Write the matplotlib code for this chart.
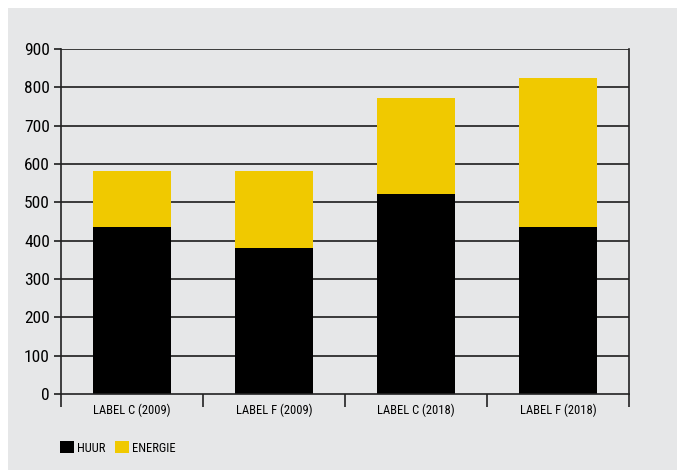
import matplotlib
matplotlib.use("Agg")
import matplotlib.pyplot as plt
from matplotlib.patches import Rectangle, Patch
import numpy as np
from matplotlib import font_manager

categories = ["LABEL C (2009)", "LABEL F (2009)", "LABEL C (2018)", "LABEL F (2018)"]
huur = [435, 380, 522, 435]
energie = [146, 201, 251, 390]
series_names = ["HUUR", "ENERGIE"]
yticks = [0, 100, 200, 300, 400, 500, 600, 700, 800, 900]

names = {f.name for f in font_manager.fontManager.ttflist}
fam = "Liberation Sans Narrow" if "Liberation Sans Narrow" in names else "Roboto Condensed" if "Roboto Condensed" in names else "DejaVu Sans"
plt.rcParams["font.family"] = [fam, "DejaVu Sans"]

W, H = 677, 470
fig = plt.figure(figsize=(W / 100, H / 100), dpi=100)
fig.patch.set_facecolor("white")
fig.patches.append(Rectangle((8 / W, 0), 1 - 8 / W, 1 - 8 / H, transform=fig.transFigure,
                             facecolor="#e6e7e8", edgecolor="none", zorder=-10))

ax = fig.add_axes([61 / W, 1 - 394 / H, (629 - 61) / W, (394 - 49) / H])
ax.set_facecolor("none")

yellow = "#f0c900"
x = np.arange(len(categories))
ax.bar(x, huur, width=0.545, color="black", zorder=3)
ax.bar(x, energie, bottom=huur, width=0.545, color=yellow, zorder=3)

ax.set_xlim(-0.5, len(categories) - 0.5)
ax.set_ylim(0, 900)
ax.set_yticks(yticks)
ax.set_yticklabels([str(v) for v in yticks], fontsize=12.5)
for v in yticks[1:]:
    ax.axhline(v, color="#3a3a3a", lw=1.4, zorder=1)

ax.set_xticks(x)
ax.set_xticklabels(categories, fontsize=9)
ax.set_xticks(np.arange(-0.5, len(categories)), minor=True)
ax.tick_params(axis="x", which="major", length=0, pad=7)
ax.tick_params(axis="x", which="minor", length=9, width=1.2, color="#222222")
ax.tick_params(axis="y", length=5, width=1.4, color="#3a3a3a", pad=3)

ax.spines["top"].set_visible(False)
for s in ["left", "right", "bottom"]:
    ax.spines[s].set_color("#222222")
    ax.spines[s].set_linewidth(1.2)
    ax.spines[s].set_zorder(4)

handles = [Patch(facecolor="black"), Patch(facecolor=yellow)]
fig.legend(handles, series_names, loc="center left", bbox_to_anchor=(54 / W, 1 - 448 / H),
           ncol=2, frameon=False, fontsize=9, handlelength=1.1, handleheight=1.1,
           handletextpad=0.25, columnspacing=0.75, borderpad=0)

fig.savefig("out.png", dpi=100)
